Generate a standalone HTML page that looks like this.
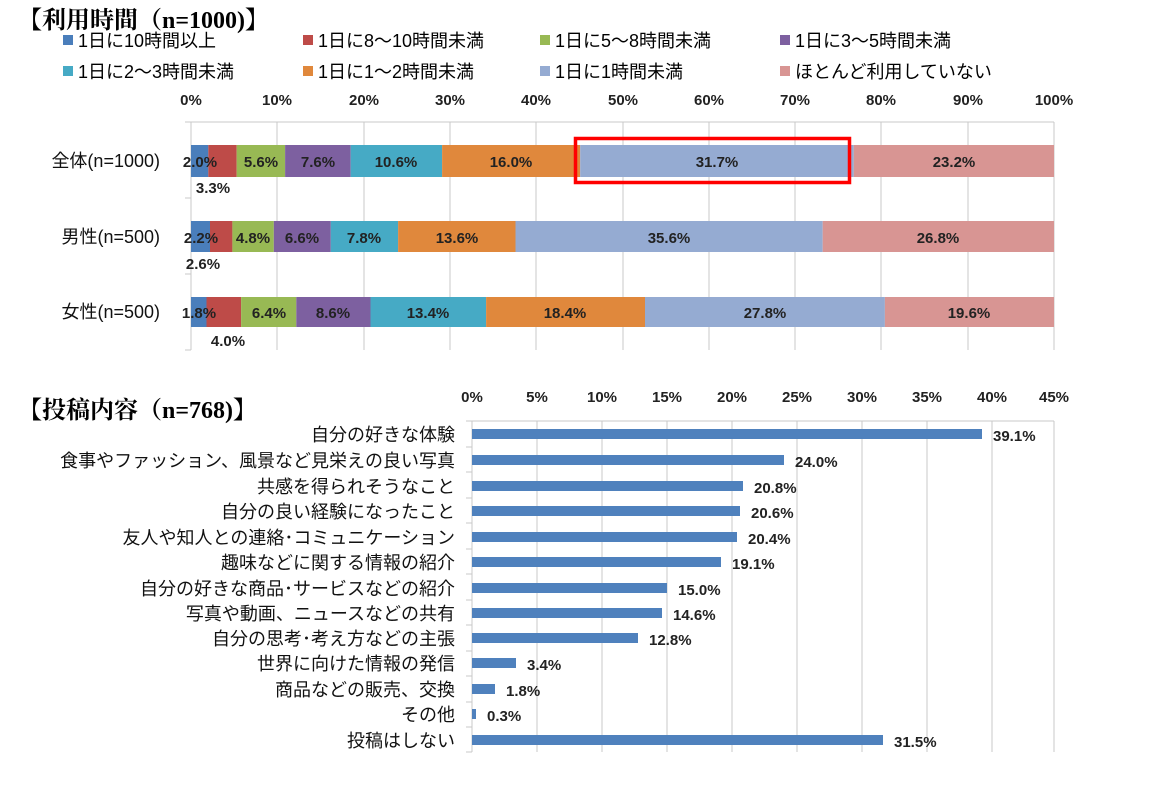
<!DOCTYPE html>
<html><head><meta charset="utf-8"><style>
body{margin:0;background:#fff;}
svg{display:block;font-family:"Liberation Sans","Noto Sans CJK JP",sans-serif;}
.t{font-family:"Liberation Serif","Noto Serif CJK SC",serif;font-size:24px;font-weight:bold;}
.lg{font-size:18px;}
.tk{font-size:15px;font-weight:bold;fill:#222;}
.v{font-size:15px;font-weight:bold;fill:#222;}
.c{font-size:18px;fill:#111;}
</style></head><body>
<svg width="1155" height="787" viewBox="0 0 1155 787">
<text class="t" x="18" y="28">【利用時間（n=1000)】</text>
<g class="lg">
<rect x="63" y="35" width="10" height="10" fill="#4a7ebb"/><text x="78" y="47">1日に10時間以上</text>
<rect x="303" y="35" width="10" height="10" fill="#be4b48"/><text x="318" y="47">1日に8～10時間未満</text>
<rect x="540" y="35" width="10" height="10" fill="#98b954"/><text x="555" y="47">1日に5～8時間未満</text>
<rect x="780" y="35" width="10" height="10" fill="#7d60a0"/><text x="795" y="47">1日に3～5時間未満</text>
<rect x="63" y="66" width="10" height="10" fill="#46aac5"/><text x="78" y="78">1日に2～3時間未満</text>
<rect x="303" y="66" width="10" height="10" fill="#e0883c"/><text x="318" y="78">1日に1～2時間未満</text>
<rect x="540" y="66" width="10" height="10" fill="#95abd2"/><text x="555" y="78">1日に1時間未満</text>
<rect x="780" y="66" width="10" height="10" fill="#d89593"/><text x="795" y="78">ほとんど利用していない</text>
</g>
<g class="tk" text-anchor="middle">
<text x="191" y="105">0%</text><text x="277" y="105">10%</text><text x="364" y="105">20%</text><text x="450" y="105">30%</text><text x="536" y="105">40%</text><text x="623" y="105">50%</text><text x="709" y="105">60%</text><text x="795" y="105">70%</text><text x="881" y="105">80%</text><text x="968" y="105">90%</text><text x="1054" y="105">100%</text>
</g>
<g stroke="#c8c8c8" stroke-width="1">
<line x1="277" y1="122" x2="277" y2="350"/><line x1="364" y1="122" x2="364" y2="350"/><line x1="450" y1="122" x2="450" y2="350"/><line x1="536" y1="122" x2="536" y2="350"/><line x1="623" y1="122" x2="623" y2="350"/><line x1="709" y1="122" x2="709" y2="350"/><line x1="795" y1="122" x2="795" y2="350"/><line x1="881" y1="122" x2="881" y2="350"/><line x1="968" y1="122" x2="968" y2="350"/><line x1="1054" y1="122" x2="1054" y2="350"/>
<line x1="185" y1="122" x2="1054" y2="122"/>
<line x1="191" y1="122" x2="191" y2="350"/>
<line x1="185" y1="198" x2="191" y2="198"/><line x1="185" y1="274" x2="191" y2="274"/><line x1="185" y1="350" x2="191" y2="350"/>
</g>
<g>
<rect x="191" y="145" width="17.3" height="32" fill="#4a7ebb"/>
<rect x="208.3" y="145" width="28.4" height="32" fill="#be4b48"/>
<rect x="236.7" y="145" width="48.4" height="32" fill="#98b954"/>
<rect x="285.1" y="145" width="65.6" height="32" fill="#7d60a0"/>
<rect x="350.7" y="145" width="91.4" height="32" fill="#46aac5"/>
<rect x="442.1" y="145" width="138.1" height="32" fill="#e0883c"/>
<rect x="580.2" y="145" width="273.6" height="32" fill="#95abd2"/>
<rect x="853.8" y="145" width="200.2" height="32" fill="#d89593"/>
</g>
<g>
<rect x="191" y="221" width="19" height="31" fill="#4a7ebb"/>
<rect x="210" y="221" width="22.4" height="31" fill="#be4b48"/>
<rect x="232.4" y="221" width="41.4" height="31" fill="#98b954"/>
<rect x="273.8" y="221" width="57" height="31" fill="#7d60a0"/>
<rect x="330.8" y="221" width="67.3" height="31" fill="#46aac5"/>
<rect x="398.1" y="221" width="117.4" height="31" fill="#e0883c"/>
<rect x="515.5" y="221" width="307.2" height="31" fill="#95abd2"/>
<rect x="822.7" y="221" width="231.3" height="31" fill="#d89593"/>
</g>
<g>
<rect x="191" y="297" width="15.5" height="30" fill="#4a7ebb"/>
<rect x="206.5" y="297" width="34.6" height="30" fill="#be4b48"/>
<rect x="241.1" y="297" width="55.2" height="30" fill="#98b954"/>
<rect x="296.3" y="297" width="74.2" height="30" fill="#7d60a0"/>
<rect x="370.5" y="297" width="115.6" height="30" fill="#46aac5"/>
<rect x="486.1" y="297" width="158.9" height="30" fill="#e0883c"/>
<rect x="645" y="297" width="239.9" height="30" fill="#95abd2"/>
<rect x="884.9" y="297" width="169.1" height="30" fill="#d89593"/>
</g>
<rect x="575.5" y="138.5" width="274" height="44" fill="none" stroke="#f00" stroke-width="3.5"/>
<g class="c" text-anchor="end">
<text x="160" y="167">全体(n=1000)</text>
<text x="160" y="243">男性(n=500)</text>
<text x="160" y="318">女性(n=500)</text>
</g>
<g class="v" text-anchor="middle">
<text x="200" y="167">2.0%</text><text x="213" y="193">3.3%</text><text x="261" y="167">5.6%</text><text x="318" y="167">7.6%</text><text x="396" y="167">10.6%</text><text x="511" y="167">16.0%</text><text x="717" y="167">31.7%</text><text x="954" y="167">23.2%</text>
<text x="201" y="243">2.2%</text><text x="203" y="269">2.6%</text><text x="253" y="243">4.8%</text><text x="302" y="243">6.6%</text><text x="364" y="243">7.8%</text><text x="457" y="243">13.6%</text><text x="669" y="243">35.6%</text><text x="938" y="243">26.8%</text>
<text x="199" y="318">1.8%</text><text x="228" y="346">4.0%</text><text x="269" y="318">6.4%</text><text x="333" y="318">8.6%</text><text x="428" y="318">13.4%</text><text x="565" y="318">18.4%</text><text x="765" y="318">27.8%</text><text x="969" y="318">19.6%</text>
</g>

<text class="t" x="18" y="418">【投稿内容（n=768)】</text>
<g class="tk" text-anchor="middle">
<text x="472" y="402">0%</text><text x="537" y="402">5%</text><text x="602" y="402">10%</text><text x="667" y="402">15%</text><text x="732" y="402">20%</text><text x="797" y="402">25%</text><text x="862" y="402">30%</text><text x="927" y="402">35%</text><text x="992" y="402">40%</text><text x="1054" y="402">45%</text>
</g>
<g stroke="#c8c8c8" stroke-width="1">
<line x1="537" y1="421" x2="537" y2="752"/><line x1="602" y1="421" x2="602" y2="752"/><line x1="667" y1="421" x2="667" y2="752"/><line x1="732" y1="421" x2="732" y2="752"/><line x1="797" y1="421" x2="797" y2="752"/><line x1="862" y1="421" x2="862" y2="752"/><line x1="927" y1="421" x2="927" y2="752"/><line x1="992" y1="421" x2="992" y2="752"/><line x1="1054" y1="421" x2="1054" y2="752"/>
<line x1="472" y1="421" x2="1054" y2="421"/>
<line x1="472" y1="421" x2="472" y2="752"/>
<line x1="466" y1="421" x2="472" y2="421"/><line x1="466" y1="447" x2="472" y2="447"/><line x1="466" y1="472" x2="472" y2="472"/><line x1="466" y1="498" x2="472" y2="498"/><line x1="466" y1="523" x2="472" y2="523"/><line x1="466" y1="549" x2="472" y2="549"/><line x1="466" y1="574" x2="472" y2="574"/><line x1="466" y1="600" x2="472" y2="600"/><line x1="466" y1="625" x2="472" y2="625"/><line x1="466" y1="651" x2="472" y2="651"/><line x1="466" y1="676" x2="472" y2="676"/><line x1="466" y1="702" x2="472" y2="702"/><line x1="466" y1="727" x2="472" y2="727"/><line x1="466" y1="752" x2="472" y2="752"/>
</g>
<g fill="#4f81bd">
<rect x="472" y="429" width="510" height="10"/>
<rect x="472" y="455" width="312" height="10"/>
<rect x="472" y="481" width="271" height="10"/>
<rect x="472" y="506" width="268" height="10"/>
<rect x="472" y="532" width="265" height="10"/>
<rect x="472" y="557" width="249" height="10"/>
<rect x="472" y="583" width="195" height="10"/>
<rect x="472" y="608" width="190" height="10"/>
<rect x="472" y="633" width="166" height="10"/>
<rect x="472" y="658" width="44" height="10"/>
<rect x="472" y="684" width="23" height="10"/>
<rect x="472" y="709" width="4" height="10"/>
<rect x="472" y="735" width="411" height="10"/>
</g>
<g class="v">
<text x="993" y="441">39.1%</text><text x="795" y="467">24.0%</text><text x="754" y="493">20.8%</text><text x="751" y="518">20.6%</text><text x="748" y="544">20.4%</text><text x="732" y="569">19.1%</text><text x="678" y="595">15.0%</text><text x="673" y="620">14.6%</text><text x="649" y="645">12.8%</text><text x="527" y="670">3.4%</text><text x="506" y="696">1.8%</text><text x="487" y="721">0.3%</text><text x="894" y="747">31.5%</text>
</g>
<g class="c" text-anchor="end">
<text x="455" y="441">自分の好きな体験</text>
<text x="455" y="467">食事やファッション、風景など見栄えの良い写真</text>
<text x="455" y="493">共感を得られそうなこと</text>
<text x="455" y="518">自分の良い経験になったこと</text>
<text x="455" y="544">友人や知人との連絡･コミュニケーション</text>
<text x="455" y="569">趣味などに関する情報の紹介</text>
<text x="455" y="595">自分の好きな商品･サービスなどの紹介</text>
<text x="455" y="620">写真や動画、ニュースなどの共有</text>
<text x="455" y="645">自分の思考･考え方などの主張</text>
<text x="455" y="670">世界に向けた情報の発信</text>
<text x="455" y="696">商品などの販売、交換</text>
<text x="455" y="721">その他</text>
<text x="455" y="747">投稿はしない</text>
</g>
</svg>
</body></html>
